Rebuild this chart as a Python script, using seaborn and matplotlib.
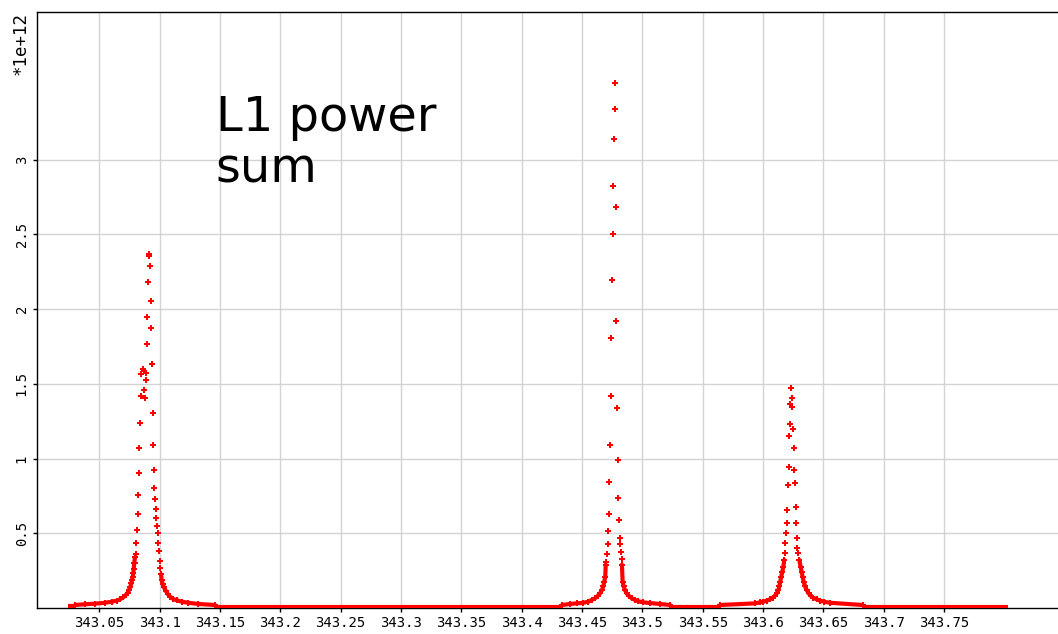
"""L1 power sum spectrum, three peaks drawn as red point clouds."""

import matplotlib
matplotlib.use('agg')
import matplotlib.pyplot as plt
import pandas as pd
import seaborn as sns

RED = '#ff0000'
GRID_COLOR = '#d3d3d3'
TICK_FONT = 'DejaVu Sans Mono'

# peak cores (x in m/z, y in units of 1e12)
peak1_x = [343.0910, 343.0914, 343.0918, 343.0901, 343.0926, 343.0893, 343.0926, 343.0893,
           343.0937, 343.0860, 343.0868, 343.0848, 343.0884, 343.0884, 343.0868, 343.0848,
           343.0876, 343.0942, 343.0840, 343.0831, 343.0942, 343.0831, 343.0953, 343.0823,
           343.0953, 343.0823, 343.0961, 343.0815, 343.0970, 343.0970, 343.0978, 343.0804,
           343.0986, 343.0804, 343.0796, 343.0986, 343.0995, 343.1003, 343.1003, 343.1011]
peak1_y = [2.372, 2.355, 2.291, 2.182, 2.053, 1.946, 1.876, 1.769,
           1.631, 1.598, 1.588, 1.564, 1.571, 1.524, 1.457, 1.417,
           1.406, 1.307, 1.238, 1.071, 1.089, 0.904, 0.924, 0.756,
           0.803, 0.627, 0.728, 0.520, 0.661, 0.600, 0.549, 0.433,
           0.500, 0.363, 0.303, 0.433, 0.384, 0.315, 0.266, 0.226]

peak2_x = [343.4773, 343.4773, 343.4762, 343.4754, 343.4781, 343.4754, 343.4745, 343.4781,
           343.4737, 343.4737, 343.4789, 343.4729, 343.4797, 343.4720, 343.4797, 343.4720,
           343.4806, 343.4712, 343.4712, 343.4814, 343.4814, 343.4704, 343.4822, 343.4696,
           343.4830]
peak2_y = [3.512, 3.340, 3.141, 2.827, 2.684, 2.503, 2.197, 1.923,
           1.809, 1.417, 1.341, 1.093, 0.991, 0.843, 0.734, 0.627,
           0.589, 0.513, 0.428, 0.469, 0.428, 0.361, 0.373, 0.310,
           0.326]

peak3_x = [343.6233, 343.6241, 343.6225, 343.6241, 343.6225, 343.6250, 343.6217, 343.6258,
           343.6217, 343.6258, 343.6208, 343.6266, 343.6200, 343.6274, 343.6200, 343.6274,
           343.6192, 343.6283, 343.6183, 343.6283, 343.6183, 343.6291, 343.6175, 343.6300]
peak3_y = [1.475, 1.404, 1.363, 1.345, 1.232, 1.198, 1.149, 1.069,
           0.944, 0.922, 0.823, 0.835, 0.656, 0.678, 0.569, 0.569,
           0.502, 0.471, 0.433, 0.404, 0.366, 0.366, 0.321, 0.321]

# dense flanks of each peak
tail1_left_x = [343.0299, 343.0382, 343.0464, 343.0547, 343.0603, 343.0644, 343.0672, 343.0699,
                343.0719, 343.0735, 343.0746, 343.0757, 343.0765, 343.0771, 343.0777, 343.0782,
                343.0785, 343.0790, 343.0796]
tail1_left_y = [0.020, 0.025, 0.029, 0.035, 0.042, 0.049, 0.058, 0.072,
                0.087, 0.102, 0.120, 0.143, 0.165, 0.187, 0.210, 0.232,
                0.259, 0.303, 0.340]
tail1_right_x = [343.1011, 343.1017, 343.1025, 343.1036, 343.1050, 343.1067, 343.1086, 343.1113,
                 343.1141, 343.1183, 343.1237, 343.1320, 343.1459]
tail1_right_y = [0.226, 0.187, 0.161, 0.139, 0.116, 0.094, 0.076, 0.060,
                 0.052, 0.042, 0.035, 0.027, 0.020]

tail2_left_x = [343.4334, 343.4400, 343.4455, 343.4510, 343.4551, 343.4580, 343.4607, 343.4629,
                343.4648, 343.4665, 343.4676, 343.4684, 343.4692, 343.4696]
tail2_left_y = [0.020, 0.027, 0.031, 0.035, 0.042, 0.054, 0.065, 0.080,
                0.098, 0.120, 0.147, 0.176, 0.210, 0.290]
tail2_right_x = [343.4830, 343.4836, 343.4845, 343.4855, 343.4869, 343.4889, 343.4911, 343.4938,
                 343.4966, 343.5007, 343.5062, 343.5145, 343.5229]
tail2_right_y = [0.290, 0.176, 0.147, 0.120, 0.098, 0.080, 0.065, 0.054,
                 0.045, 0.038, 0.033, 0.027, 0.020]

tail3_left_x = [343.5643, 343.5933, 343.5974, 343.6001, 343.6029, 343.6057, 343.6079, 343.6098,
                343.6112, 343.6126, 343.6134, 343.6142, 343.6150, 343.6159, 343.6167, 343.6175]
tail3_left_y = [0.020, 0.031, 0.038, 0.042, 0.049, 0.058, 0.069, 0.082,
                0.098, 0.120, 0.147, 0.176, 0.210, 0.243, 0.276, 0.321]
tail3_right_x = [343.6300, 343.6311, 343.6319, 343.6327, 343.6336, 343.6347, 343.6361, 343.6377,
                 343.6396, 343.6415, 343.6444, 343.6471, 343.6504, 343.6554, 343.6825]
tail3_right_y = [0.321, 0.276, 0.243, 0.210, 0.176, 0.147, 0.120, 0.098,
                 0.082, 0.069, 0.058, 0.049, 0.042, 0.035, 0.020]

# flat noise floor between the scans: start, end, level
floor_start = [343.0241, 343.1459, 343.5229, 343.6825]
floor_end = [343.0299, 343.4334, 343.5643, 343.8029]
floor_level = [0.012, 0.010, 0.010, 0.010]

x_ticks = [343.05, 343.1, 343.15, 343.2, 343.25, 343.3, 343.35, 343.4,
           343.45, 343.5, 343.55, 343.6, 343.65, 343.7, 343.75]
x_tick_labels = ['343.05', '343.1', '343.15', '343.2', '343.25', '343.3', '343.35', '343.4',
                 '343.45', '343.5', '343.55', '343.6', '343.65', '343.7', '343.75']
y_ticks = [0.5, 1, 1.5, 2, 2.5, 3]
y_tick_labels = ['0.5', '1', '1.5', '2', '2.5', '3']


sns.set_theme(style='white')
fig = plt.figure(figsize=(10.58, 6.34), dpi=100)
ax = fig.add_axes([37 / 1058, 26 / 634, 1021 / 1058, 596 / 634])

ax.grid(True, color=GRID_COLOR, linewidth=1.0, zorder=0)
ax.set_axisbelow(True)

# floor segments
ax.hlines(floor_level, floor_start, floor_end, color=RED, linewidth=3.0, zorder=3)

# flanks as dense curves
tails = [(tail1_left_x, tail1_left_y), (tail1_right_x, tail1_right_y),
         (tail2_left_x, tail2_left_y), (tail2_right_x, tail2_right_y),
         (tail3_left_x, tail3_left_y), (tail3_right_x, tail3_right_y)]
for tx, ty in tails:
    sns.lineplot(x=tx, y=ty, ax=ax, sort=False, estimator=None, color=RED,
                 linewidth=3.0, zorder=3)
    sns.scatterplot(x=tx, y=ty, ax=ax, marker='P', s=18, color=RED,
                    linewidth=0, zorder=4)

cores = pd.DataFrame({
    'x': peak1_x + peak2_x + peak3_x,
    'y': peak1_y + peak2_y + peak3_y,
})
sns.scatterplot(data=cores, x='x', y='y', ax=ax, marker='P', s=16, color=RED,
                linewidth=0, zorder=4)

ax.set_xlim(342.9984, 343.8443)
ax.set_ylim(0, 3.989)
ax.set_xticks(x_ticks)
ax.set_xticklabels(x_tick_labels, family=TICK_FONT, fontsize=10)
ax.set_yticks(y_ticks)
ax.set_yticklabels(y_tick_labels, family=TICK_FONT, fontsize=10, rotation=90, va='center')
ax.set_xlabel('')
ax.set_ylabel('')
ax.tick_params(axis='both', direction='out', length=3, width=1, color='black',
               pad=3, bottom=True, left=True, labelcolor='black')

for side in ['left', 'bottom', 'top']:
    ax.spines[side].set_visible(True)
    ax.spines[side].set_color('black')
    ax.spines[side].set_linewidth(1.0)
ax.spines['right'].set_visible(False)

fig.text(21 / 1058, 1 - 12 / 634, '*1e+12', rotation=90, ha='center', va='top',
         family=TICK_FONT, fontsize=12.5, color='black')

ax.text(0.175, 0.7153, 'L1 power\nsum', transform=ax.transAxes, ha='left',
        va='baseline', fontsize=34.5, family='DejaVu Sans', color='black',
        linespacing=1.1)

fig.savefig('out.png', dpi=100)
